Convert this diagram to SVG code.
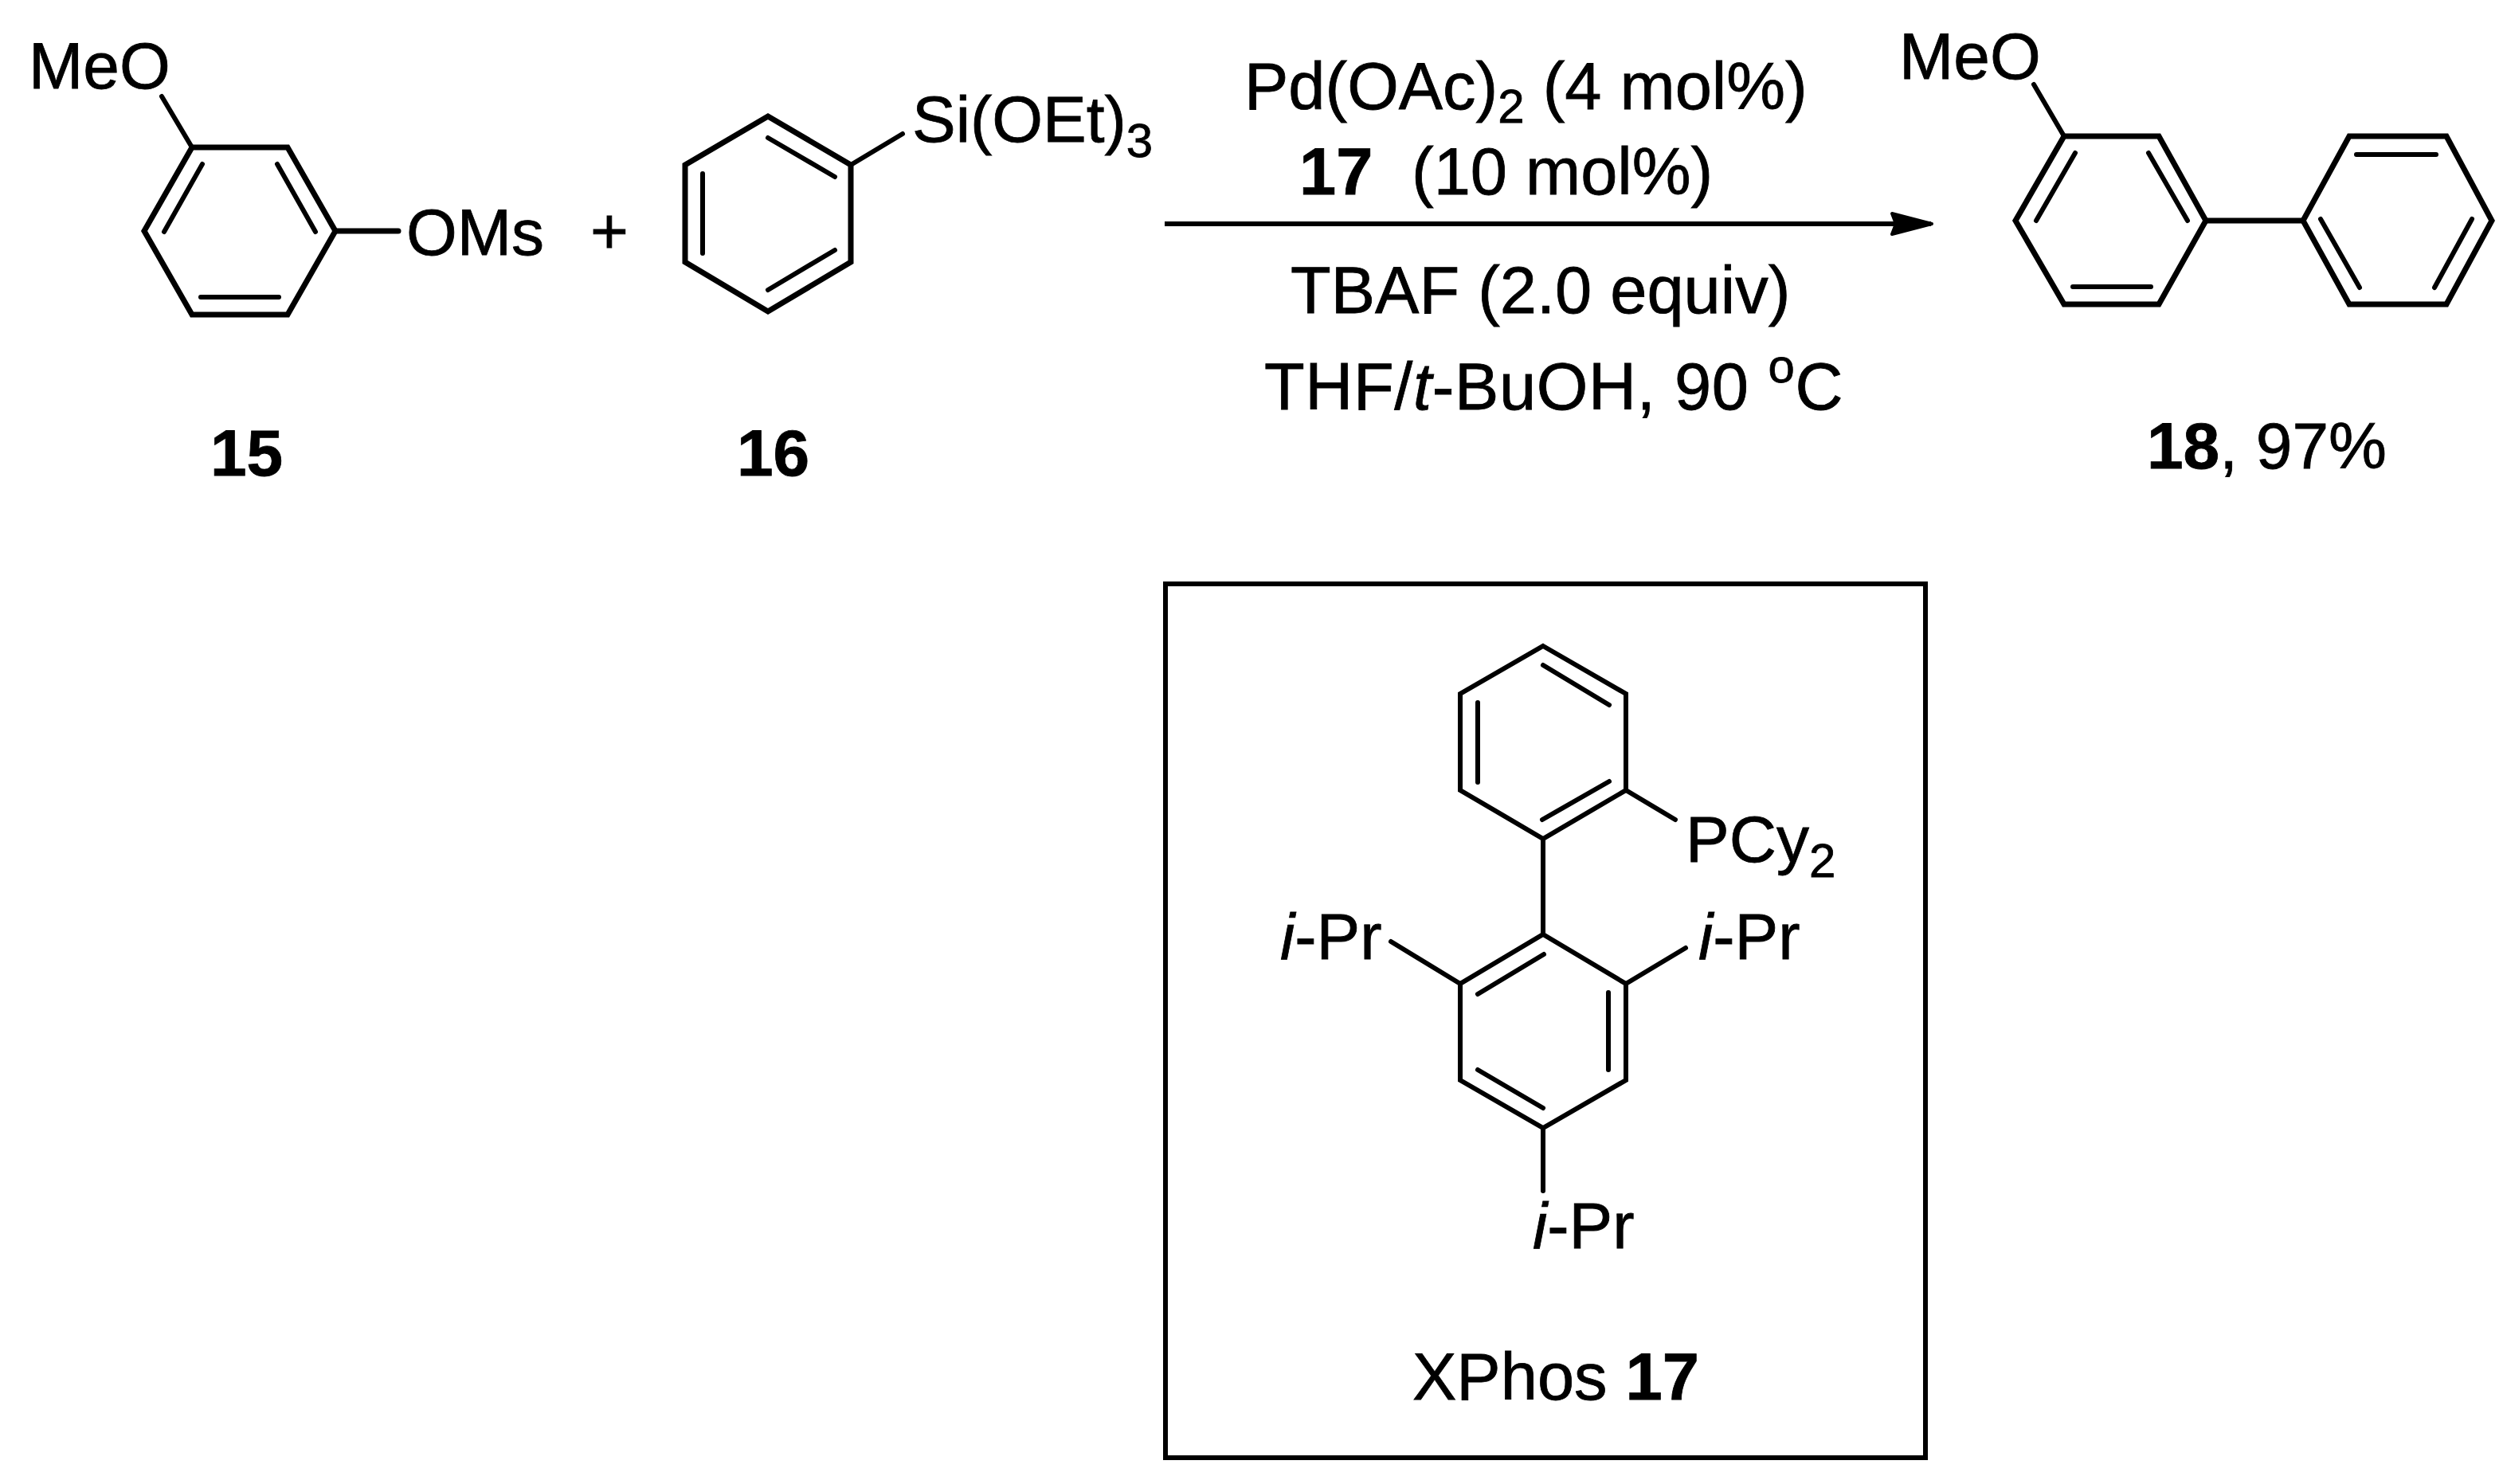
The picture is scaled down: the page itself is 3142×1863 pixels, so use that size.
<svg xmlns="http://www.w3.org/2000/svg" width="3142" height="1863" viewBox="0 0 3142 1863">
<style>
text{font-family:"Liberation Sans",Arial,sans-serif;font-size:82px;fill:#000;stroke:#000;stroke-width:.8}
.c{font-size:83px}
.b{font-weight:bold}.i{font-style:italic}
.s{font-size:60px}
line,polygon{stroke:#000;stroke-width:7;fill:none;stroke-linejoin:miter;stroke-linecap:round}
.in{stroke-width:6}
#n17 line,#n17 polygon,#n17 rect{stroke-width:6}
#connectors line{stroke-linecap:butt;stroke-width:6}
</style>
<defs><marker id="ah" markerUnits="userSpaceOnUse" markerWidth="60" markerHeight="40" refX="50" refY="16" orient="auto" overflow="visible"><path d="M1 3L51 16L1 29L6 16Z" fill="#000" stroke="#000" stroke-width="4" stroke-linejoin="round"/></marker></defs>
<rect width="3142" height="1863" fill="#fff"/>
<g id="n15">
<polygon points="241,185 361,185 421,290 361,395 241,395 181,290"/>
<line class="in" x1="254" y1="206" x2="206" y2="291"/><line class="in" x1="348" y1="206" x2="396" y2="291"/><line class="in" x1="252" y1="373" x2="350" y2="373"/>
<line class="in" x1="203" y1="121" x2="241" y2="185"/><line x1="421" y1="290" x2="500" y2="290"/>
<text x="36" y="111">MeO</text><text x="510" y="320">OMs</text><text class="b" x="264" y="597">15</text>
</g>
<g id="plus"><text x="741" y="318">+</text></g>
<g id="n16">
<polygon points="964,146 1068,207 1068,329 964,391 860,329 860,207"/>
<line class="in" x1="964" y1="173" x2="1048" y2="222"/><line class="in" x1="882" y1="218" x2="882" y2="318"/><line class="in" x1="1048" y1="314" x2="964" y2="364"/>
<line class="in" x1="1068" y1="207" x2="1133" y2="168"/>
<text x="1145" y="178">Si(OEt)<tspan class="s" dy="19">3</tspan></text><text class="b" x="925" y="597">16</text>
</g>
<g id="connectors"><line x1="1462" y1="281" x2="2424" y2="281" marker-end="url(#ah)"/></g>
<g id="conditions">
<text class="c" x="1562" y="137">Pd(OAc)<tspan class="s" dy="17">2</tspan><tspan dy="-17"> (4 mol%)</tspan></text>
<text class="c" x="1631" y="244"><tspan class="b">17</tspan><tspan x="1772">(10 mol%)</tspan></text>
<text class="c" x="1620" y="393">TBAF (2.0 equiv)</text>
<text class="c" x="1587" y="514" letter-spacing=".65">THF/<tspan class="i">t</tspan>-BuOH, 90 <tspan class="s" dy="-34">o</tspan><tspan dy="34">C</tspan></text>
</g>
<g id="n18">
<polygon points="2591,171 2710,171 2769,277 2710,382 2591,382 2530,277"/>
<polygon points="2891,277 2949,171 3071,171 3128,277 3071,382 2949,382"/>
<line class="in" x1="2605" y1="192" x2="2556" y2="277"/><line class="in" x1="2697" y1="192" x2="2746" y2="277"/><line class="in" x1="2602" y1="360" x2="2700" y2="360"/>
<line class="in" x1="2958" y1="194" x2="3058" y2="194"/><line class="in" x1="2913" y1="275" x2="2962" y2="361"/><line class="in" x1="3103" y1="275" x2="3056" y2="361"/>
<line class="in" x1="2553" y1="106" x2="2591" y2="171"/><line x1="2769" y1="277" x2="2891" y2="277"/>
<text x="2384" y="99">MeO</text><text x="2695" y="588"><tspan class="b">18</tspan>, 97%</text>
</g>
<g id="n17">
<rect x="1463" y="733" width="954" height="1097" fill="none" stroke="#000"/>
<polygon points="1937,811 2041,871 2041,992 1937,1053 1833,992 1833,871"/>
<polygon points="1937,1173 2041,1235 2041,1356 1937,1416 1833,1356 1833,1235"/>
<line x1="1937" y1="835" x2="2020" y2="885"/><line x1="1855" y1="882" x2="1855" y2="982"/><line x1="2020" y1="981" x2="1936" y2="1029"/>
<line x1="1938" y1="1198" x2="1855" y2="1248"/><line x1="2019" y1="1246" x2="2019" y2="1343"/><line x1="1855" y1="1343" x2="1937" y2="1391"/>
<line x1="1937" y1="1053" x2="1937" y2="1173"/><line x1="1937" y1="1416" x2="1937" y2="1495"/>
<line x1="2041" y1="992" x2="2103" y2="1029"/><line x1="1833" y1="1235" x2="1746" y2="1182"/><line x1="2041" y1="1235" x2="2116" y2="1190"/>
<text x="2116" y="1082">PCy<tspan class="s" dy="19">2</tspan></text>
<text x="1607" y="1204"><tspan class="i">i</tspan>-Pr</text><text x="2132" y="1204"><tspan class="i">i</tspan>-Pr</text><text x="1924" y="1567"><tspan class="i">i</tspan>-Pr</text>
<text class="c" x="1773" y="1757">XPhos <tspan class="b">17</tspan></text>
</g>
</svg>
